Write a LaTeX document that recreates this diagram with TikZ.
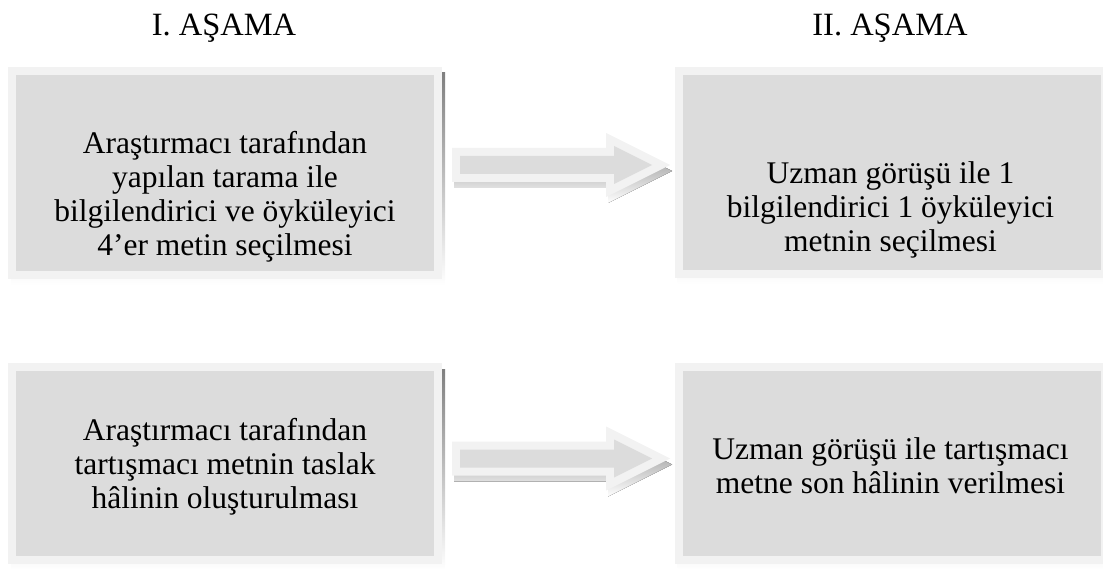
\documentclass[tikz,border=0pt]{standalone}
\usepackage{fontspec}
\setmainfont{Liberation Serif}
\usetikzlibrary{calc}
\definecolor{boxfill}{HTML}{DCDCDC}
\definecolor{boxrim}{HTML}{F2F2F2}
\definecolor{shade}{HTML}{B4B4B4}
\pgfdeclarelayer{bg}
\pgfsetlayers{bg,main}
\tikzset{
  box/.style={draw=boxrim, line width=8pt, fill=boxfill, minimum width=426pt,
    inner sep=0pt, outer sep=0pt},
  boxtext/.style={align=center, text=black, inner sep=0pt,
    font=\fontsize{31.5}{34}\selectfont},
  head/.style={font=\fontsize{32.5}{36}\selectfont, inner sep=0pt, text=black},
}
\newcommand\boxshadow[1]{%
  \begin{pgfonlayer}{bg}
    \fill[shade] ($(#1.north west)+(-1,2)$) rectangle ($(#1.south east)+(7,10)$);
  \end{pgfonlayer}}
\newcommand\blockarrow[1]{%
  \begin{scope}[shift={(#1)}]
    \begin{pgfonlayer}{bg}
      \fill[shade,shift={(2,6)}] (0,-17) -- (154,-17) -- (154,-32) -- (218,0)
        -- (154,32) -- (154,17) -- (0,17) -- cycle;
    \end{pgfonlayer}
    \fill[boxrim] (0,-17) -- (154,-17) -- (154,-32) -- (218,0)
      -- (154,32) -- (154,17) -- (0,17) -- cycle;
    \fill[boxfill] (8,-9) -- (162,-9) -- (162,-19) -- (200,0)
      -- (162,19) -- (162,9) -- (8,9) -- cycle;
  \end{scope}}
\begin{document}
\begin{tikzpicture}[x=1pt,y=-1pt]
  \useasboundingbox (0,0) rectangle (1103,569);
  \clip (0,0) rectangle (1103,569);

  \node[head] (h1) at (224,28) {I. AŞAMA};
  \node[head] (h2) at (890,28) {II. AŞAMA};

  \node[box, minimum height=204pt] (b1) at (225,173) {};
  \node[box, minimum height=203pt] (b2) at (891.5,172.5) {};
  \node[box, minimum height=193pt] (b3) at (225,463.5) {};
  \node[box, minimum height=193pt] (b4) at (891.5,463.5) {};

  \node[boxtext] (t1) at ($(b1.center)+(0,24)$)
    {Araştırmacı tarafından\\yapılan tarama ile\\bilgilendirici ve öyküleyici\\4’er metin seçilmesi};
  \node[boxtext] (t2) at ($(b2.center)+(-1,37)$)
    {Uzman görüşü ile 1\\bilgilendirici 1 öyküleyici\\metnin seçilmesi};
  \node[boxtext] (t3) at ($(b3.center)+(0,3.5)$)
    {Araştırmacı tarafından\\tartışmacı metnin taslak\\hâlinin oluşturulması};
  \node[boxtext] (t4) at ($(b4.center)+(-1,2)$)
    {Uzman görüşü ile tartışmacı\\metne son hâlinin verilmesi};

  \boxshadow{b1}
  \boxshadow{b2}
  \boxshadow{b3}
  \boxshadow{b4}

  \coordinate (a1) at ($(b1.east)+(14,-8)$);
  \coordinate (a2) at ($(b3.east)+(14,-5)$);
  \blockarrow{a1}
  \blockarrow{a2}
\end{tikzpicture}
\end{document}
